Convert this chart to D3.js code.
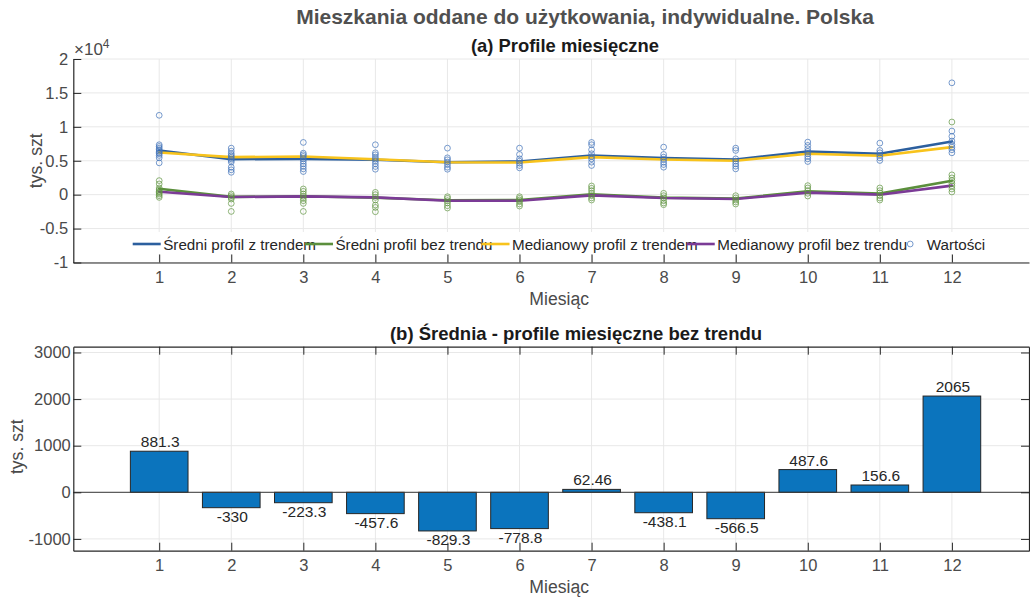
<!DOCTYPE html>
<html>
<head>
<meta charset="utf-8">
<script src="https://cdn.jsdelivr.net/npm/d3@7"></script>
<style>
  body { margin: 0; background: #fff; }
  text { font-family: "Liberation Sans", Arial, Helvetica, sans-serif; }
</style>
</head>
<body>
<svg id="chart" width="1030" height="599"></svg>
<script>
// ---- data (tys. szt) ----
const months = [1, 2, 3, 4, 5, 6, 7, 8, 9, 10, 11, 12];

// mean monthly profile without trend (also the bar chart values)
const meanNoTrend = [881.3, -330, -223.3, -457.6, -829.3, -778.8, 62.46, -438.1, -566.5, 487.6, 156.6, 2065];
// mean monthly profile with trend
const meanTrend = [6520, 5230, 5280, 5140, 4790, 4890, 5780, 5380, 5190, 6370, 6030, 7850];
// median monthly profile with trend
const medianTrend = [6220, 5530, 5630, 5230, 4790, 4740, 5530, 5190, 4990, 6030, 5730, 7010];
// median monthly profile without trend
const medianNoTrend = [440, -350, -250, -400, -890, -890, -100, -490, -640, 300, 0, 1330];

// individual yearly values per month, with trend
const valuesTrend = [
  [11700, 7360, 7110, 6860, 6620, 6420, 6220, 6030, 5780, 5430, 4690],
  [6860, 6420, 6030, 5780, 5530, 5280, 5040, 4790, 4050, 3660, 3300],
  [7700, 6120, 5880, 5630, 5280, 4940, 4550, 4200, 3800, 3410],
  [7360, 6170, 5880, 5530, 5230, 4940, 4550, 4150, 3750],
  [6860, 5430, 5140, 4790, 4440, 4050, 3750],
  [6860, 5930, 5280, 4940, 4640, 4300, 3950],
  [7700, 7360, 6620, 6030, 5630, 5280, 4790, 4300],
  [7010, 5930, 5530, 5190, 4790, 4440, 4050],
  [6860, 6520, 5280, 4940, 4550, 4200, 3800],
  [7750, 7260, 6770, 6370, 6030, 5630, 5280, 4890],
  [7600, 6520, 6170, 5780, 5430, 5040],
  [16490, 9380, 8590, 7900, 7410, 7010, 6620, 6170]
];
// individual yearly values per month, without trend
const valuesNoTrend = [
  [2070, 1580, 990, 700, 490, 300, 100, -150, -400],
  [100, -150, -400, -640, -1290, -2470],
  [840, 490, 100, -250, -540, -890, -1290, -2470],
  [340, 0, -400, -790, -1530, -1880, -2520],
  [-300, -540, -890, -1230, -1630, -1970],
  [-300, -540, -790, -1040, -1380, -1680],
  [1280, 940, 590, 200, -150, -490, -790],
  [200, -150, -490, -890, -1230, -1480],
  [-150, -490, -790, -1080, -1380],
  [1330, 990, 590, 200, -200],
  [990, 590, 250, -150, -490, -790],
  [10710, 2920, 2470, 2070, 1670, 1290, 840, 400]
];

const topTicks = [-10000, -5000, 0, 5000, 10000, 15000, 20000];
const barTicks = [-1000, 0, 1000, 2000, 3000];

const seriesNames = ["Średni profil z trendem", "Średni profil bez trendu",
                     "Medianowy profil z trendem", "Medianowy profil bez trendu"];
const pointsName = "Wartości";

// ---- drawing ----
const svg = d3.select("#chart");
const W = 1030;
svg.append("rect").attr("width", W).attr("height", 599).attr("fill", "#fff");

const axisColor = "#262626";
const labelColor = "#4a4a4a";
const gridColor = "#e8e8e8";
const left = 73.3, right = 1029;
const tickFont = 16.5;

const x = d3.scaleLinear().domain([-0.192, 13.07]).range([left, right]);

// titles
svg.append("text").attr("x", 585).attr("y", 24).attr("text-anchor", "middle")
  .attr("font-size", 21).attr("font-weight", "bold").attr("fill", "#505050")
  .text("Mieszkania oddane do użytkowania, indywidualne. Polska");
svg.append("text").attr("x", 565).attr("y", 52).attr("text-anchor", "middle")
  .attr("font-size", 18.4).attr("font-weight", "bold").attr("fill", "#1a1a1a")
  .text("(a) Profile miesięczne");
svg.append("text").attr("x", 576).attr("y", 339.5).attr("text-anchor", "middle")
  .attr("font-size", 18.5).attr("font-weight", "bold").attr("fill", "#1a1a1a")
  .text("(b) Średnia - profile miesięczne bez trendu");

function styleAxis(g) {
  g.selectAll("path.domain").attr("stroke", axisColor).attr("stroke-width", 1.2);
  g.selectAll(".tick line").attr("stroke", axisColor).attr("stroke-width", 1);
  g.selectAll(".tick text").attr("fill", labelColor).attr("font-size", tickFont)
    .attr("font-family", "'Liberation Sans', Arial, sans-serif");
}

// ================= (a) monthly profiles =================
const topY0 = 262.5, topY1 = 59;
const yA = d3.scaleLinear().domain([-10000, 20000]).range([topY0, topY1]);

const gA = svg.append("g");
// grid
gA.selectAll("line.vg").data(months).join("line")
  .attr("x1", d => x(d)).attr("x2", d => x(d)).attr("y1", topY1).attr("y2", topY0)
  .attr("stroke", gridColor).attr("stroke-width", 1);
gA.selectAll("line.hg").data(topTicks).join("line")
  .attr("x1", left).attr("x2", right).attr("y1", d => yA(d)).attr("y2", d => yA(d))
  .attr("stroke", gridColor).attr("stroke-width", 1);

// axes
const fmtA = v => String(v / 10000);
const axA_x = gA.append("g").attr("transform", `translate(0,${topY0})`)
  .call(d3.axisBottom(x).tickValues(months).tickFormat(String).tickSizeInner(-8).tickSizeOuter(0).tickPadding(8.5));
styleAxis(axA_x);
const axA_y = gA.append("g").attr("transform", `translate(${left},0)`)
  .call(d3.axisLeft(yA).tickValues(topTicks).tickFormat(fmtA).tickSizeInner(-8).tickSizeOuter(0).tickPadding(5));
styleAxis(axA_y);

// exponent label
const expo = gA.append("text").attr("x", 74).attr("y", 55).attr("font-size", 17).attr("fill", labelColor);
expo.append("tspan").text("×10");
expo.append("tspan").attr("font-size", 12).attr("dy", -7).text("4");

// axis labels
gA.append("text").attr("x", (left + right) / 2 + 8).attr("y", 304.5).attr("text-anchor", "middle")
  .attr("font-size", 17.6).attr("fill", labelColor).text("Miesiąc");
gA.append("text").attr("transform", `translate(36,${(topY0 + topY1) / 2}) rotate(-90)`)
  .attr("text-anchor", "middle").attr("dominant-baseline", "central")
  .attr("font-size", 17.6).attr("fill", labelColor).text("tys. szt");

// profile lines
const lineColors = ["#2c5f9e", "#5b8f3c", "#f8c31c", "#7b3b96"];
const profiles = [meanTrend, meanNoTrend, medianTrend, medianNoTrend];
const lineGen = d3.line().x((d, i) => x(months[i])).y(d => yA(d));
profiles.forEach((p, k) => {
  gA.append("path").datum(p).attr("d", lineGen).attr("fill", "none")
    .attr("stroke", lineColors[k]).attr("stroke-width", 2.6)
    .attr("stroke-linejoin", "round").attr("stroke-linecap", "round");
});

// individual values
const ptBlue = "#3f71b8", ptGreen = "#5f9440";
function drawPoints(sets, color) {
  sets.forEach((vals, i) => {
    gA.append("g").selectAll("circle").data(vals).join("circle")
      .attr("cx", x(months[i])).attr("cy", d => yA(d)).attr("r", 2.9)
      .attr("fill", "none").attr("stroke", color).attr("stroke-width", 1)
      .attr("stroke-opacity", 0.7);
  });
}
drawPoints(valuesTrend, ptBlue);
drawPoints(valuesNoTrend, ptGreen);

// legend (horizontal, inside the axes at the bottom)
const leg = gA.append("g");
leg.append("rect").attr("x", 126).attr("y", 232).attr("width", 870).attr("height", 22).attr("fill", "#fff");
const legY = 245;
const legFont = 15.2;
let lx = 132.7;
seriesNames.forEach((name, k) => {
  leg.append("line").attr("x1", lx).attr("x2", lx + 28).attr("y1", legY - 1).attr("y2", legY - 1)
    .attr("stroke", lineColors[k]).attr("stroke-width", 2.6);
  const t = leg.append("text").attr("x", lx + 30.5).attr("y", legY + 5.3)
    .attr("font-size", legFont).attr("fill", "#262626").text(name);
  const w = t.node().getComputedTextLength();
  lx = lx + 30.5 + w - 11;
});
leg.append("circle").attr("cx", lx + 14).attr("cy", legY - 1).attr("r", 2.9)
  .attr("fill", "none").attr("stroke", ptBlue).attr("stroke-width", 1).attr("stroke-opacity", 0.7);
leg.append("text").attr("x", lx + 30.5).attr("y", legY + 5.3)
  .attr("font-size", legFont).attr("fill", "#262626").text(pointsName);

// ================= (b) bar chart =================
const botY0 = 550.7, botY1 = 346.7;
const yB = d3.scaleLinear().domain([-1253, 3124]).range([botY0, botY1]);
const gB = svg.append("g");

gB.selectAll("line.vg").data(months).join("line")
  .attr("x1", d => x(d)).attr("x2", d => x(d)).attr("y1", botY1).attr("y2", botY0)
  .attr("stroke", gridColor).attr("stroke-width", 1);
gB.selectAll("line.hg").data(barTicks).join("line")
  .attr("x1", left).attr("x2", right).attr("y1", d => yB(d)).attr("y2", d => yB(d))
  .attr("stroke", gridColor).attr("stroke-width", 1);

// bars
const barW = 0.8;
gB.selectAll("rect.bar").data(meanNoTrend).join("rect")
  .attr("x", (d, i) => x(months[i] - barW / 2))
  .attr("width", x(barW) - x(0))
  .attr("y", d => yB(Math.max(0, d)))
  .attr("height", d => Math.abs(yB(d) - yB(0)))
  .attr("fill", "#0b74bd").attr("stroke", "#262626").attr("stroke-width", 1);

// baseline
gB.append("line").attr("x1", left).attr("x2", right).attr("y1", yB(0)).attr("y2", yB(0))
  .attr("stroke", "#3a3a3a").attr("stroke-width", 1);

// value labels
gB.selectAll("text.val").data(meanNoTrend).join("text")
  .attr("x", (d, i) => x(months[i]) + 1)
  .attr("y", d => d >= 0 ? yB(d) - 4 : yB(d) + 14.5)
  .attr("text-anchor", "middle").attr("font-size", 15.5).attr("fill", "#262626")
  .text(d => String(d));

// axes and box
const axB_x = gB.append("g").attr("transform", `translate(0,${botY0})`)
  .call(d3.axisBottom(x).tickValues(months).tickFormat(String).tickSizeInner(-8).tickSizeOuter(0).tickPadding(8.5));
styleAxis(axB_x);
const axB_y = gB.append("g").attr("transform", `translate(${left},0)`)
  .call(d3.axisLeft(yB).tickValues(barTicks).tickFormat(String).tickSizeInner(-8).tickSizeOuter(0).tickPadding(2.5));
styleAxis(axB_y);
const axB_top = gB.append("g").attr("transform", `translate(0,${botY1})`)
  .call(d3.axisTop(x).tickValues(months).tickSizeInner(-8).tickSizeOuter(0).tickFormat(""));
styleAxis(axB_top);
const axB_right = gB.append("g").attr("transform", `translate(${right},0)`)
  .call(d3.axisRight(yB).tickValues(barTicks).tickSizeInner(-8).tickSizeOuter(0).tickFormat(""));
styleAxis(axB_right);

gB.append("text").attr("x", (left + right) / 2 + 8).attr("y", 592.5).attr("text-anchor", "middle")
  .attr("font-size", 17.6).attr("fill", labelColor).text("Miesiąc");
gB.append("text").attr("transform", `translate(17,${(botY0 + botY1) / 2 - 2}) rotate(-90)`)
  .attr("text-anchor", "middle").attr("dominant-baseline", "central")
  .attr("font-size", 17.6).attr("fill", labelColor).text("tys. szt");
</script>
</body>
</html>
